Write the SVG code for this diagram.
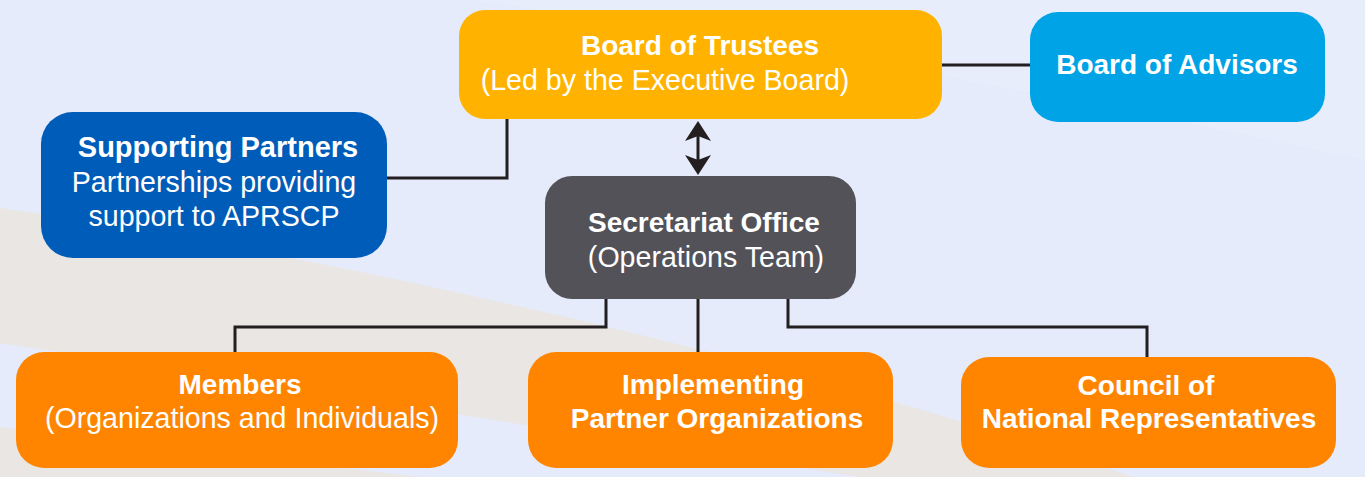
<svg xmlns="http://www.w3.org/2000/svg" width="1370" height="477" viewBox="0 0 1370 477">
  <defs>
    <style>
      .t { font-family: "Liberation Sans", Arial, sans-serif; font-size: 28.6px; fill: #ffffff; text-anchor: middle; }
      .b { font-weight: bold; font-size: 28px; }
      .conn { fill: none; stroke: #231F20; stroke-width: 3; }
      .orange { fill: #FF8500; }
    </style>
    <marker id="ah" markerUnits="userSpaceOnUse" markerWidth="22" markerHeight="26" viewBox="0 0 22 26" refX="11" refY="13" orient="auto-start-reverse">
      <path d="M0,0 L20,13 L0,26 L5,13 Z" fill="#231F20"/>
    </marker>
  </defs>

  <!-- background -->
  <rect x="0" y="0" width="1370" height="477" fill="#E5EBFA"/>
  <path d="M0,0 L470,0 Q900,60 1365,160 L1365,0 Z" fill="#E8EEFB" opacity="0.6"/>
  <path d="M0,208 C300,250 800,360 1133,477 L860,477 L0,343 Z" fill="#EAE6E3"/>
  <path d="M0,427 L420,477 L0,477 Z" fill="#EAE6E3"/>
  <rect x="1365" y="0" width="5" height="477" fill="#FFFFFF"/>

  <!-- connectors -->
  <g id="connectors">
    <path class="conn" d="M942,65 H1030"/>
    <path class="conn" d="M387,178 H507 V119"/>
    <path class="conn" d="M698,130 V166" marker-start="url(#ah)" marker-end="url(#ah)"/>
    <path class="conn" d="M606,299 V327 H235 V352"/>
    <path class="conn" d="M698,299 V352"/>
    <path class="conn" d="M788,299 V327 H1147 V357"/>
  </g>

  <g id="trustees">
    <rect x="459" y="10" width="483" height="109" rx="26" fill="#FFB300"/>
    <text class="t b" x="700" y="55">Board of Trustees</text>
    <text class="t" x="665" y="90">(Led by the Executive Board)</text>
  </g>

  <g id="advisors">
    <rect x="1030" y="12" width="295" height="110" rx="28" fill="#00A3E5"/>
    <text class="t b" x="1177" y="74">Board of Advisors</text>
  </g>

  <g id="partners">
    <rect x="41" y="112" width="346" height="146" rx="32" fill="#005CB9"/>
    <text class="t b" x="218" y="157" style="font-size:29px">Supporting Partners</text>
    <text class="t" x="214" y="192">Partnerships providing</text>
    <text class="t" x="214" y="226">support to APRSCP</text>
  </g>

  <g id="secretariat">
    <rect x="545" y="176" width="311" height="123" rx="27" fill="#535258"/>
    <text class="t b" x="704" y="232">Secretariat Office</text>
    <text class="t" x="706" y="267">(Operations Team)</text>
  </g>

  <g id="members">
    <rect class="orange" x="16" y="352" width="442" height="116" rx="28"/>
    <text class="t b" x="240" y="394">Members</text>
    <text class="t" x="242" y="428">(Organizations and Individuals)</text>
  </g>

  <g id="implementing">
    <rect class="orange" x="528" y="352" width="365" height="116" rx="28"/>
    <text class="t b" x="713" y="394">Implementing</text>
    <text class="t b" x="717" y="428">Partner Organizations</text>
  </g>

  <g id="council">
    <rect class="orange" x="961" y="357" width="375" height="111" rx="28"/>
    <text class="t b" x="1146" y="395">Council of</text>
    <text class="t b" x="1149" y="428">National Representatives</text>
  </g>
</svg>
